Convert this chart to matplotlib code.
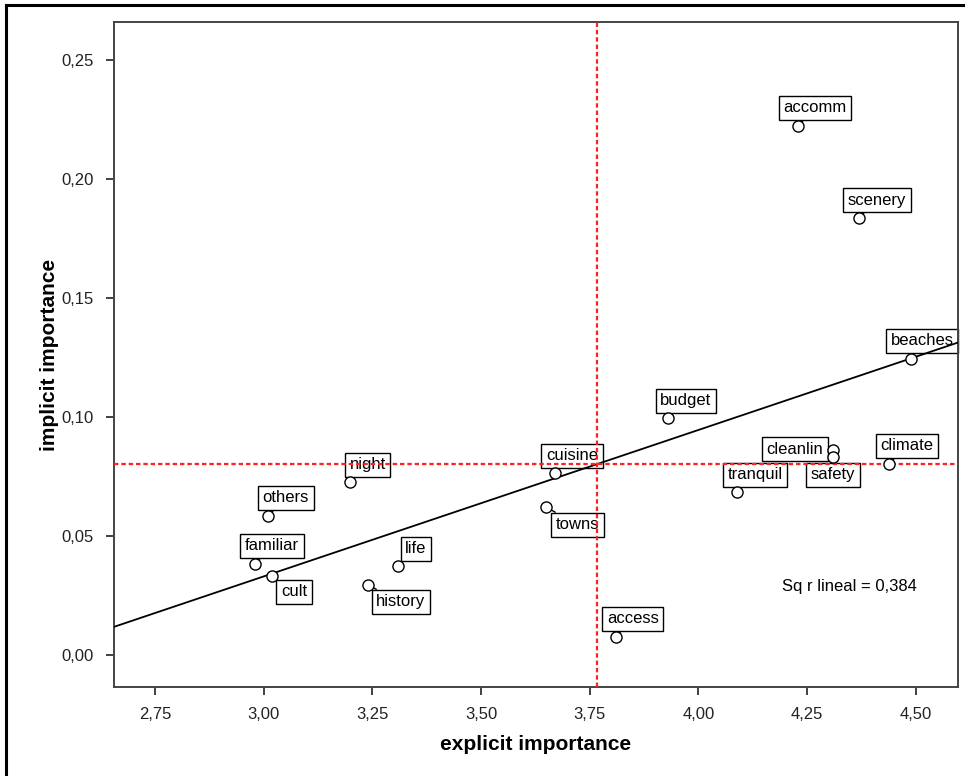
import numpy as np
import matplotlib
matplotlib.use('Agg')
import matplotlib.pyplot as plt
from matplotlib.ticker import FuncFormatter
from matplotlib.lines import Line2D

plt.rcParams['font.family'] = ['Liberation Sans', 'DejaVu Sans']

# attribute names and their explicit / implicit importance
names = ['accomm', 'scenery', 'beaches', 'budget', 'cleanlin', 'safety', 'climate',
         'tranquil', 'cuisine', 'towns', 'access', 'night', 'others', 'familiar',
         'cult', 'life', 'history']
explicit = [4.229, 4.369, 4.489, 3.930, 4.309, 4.309, 4.438,
            4.089, 3.670, 3.649, 3.810, 3.198, 3.010, 2.980,
            3.019, 3.309, 3.240]
implicit = [0.2223, 0.1836, 0.1244, 0.0996, 0.0861, 0.0832, 0.0803,
            0.0685, 0.0765, 0.0622, 0.0076, 0.0727, 0.0584, 0.0382,
            0.0332, 0.0374, 0.0294]
r2_text = 'Sq r lineal = 0,384'

x = np.array(explicit)
y = np.array(implicit)

# label box offsets in pixels (dx, dy) from each point
offsets = {'accomm': (17, 18), 'scenery': (18, 18), 'beaches': (11, 18), 'budget': (18, 17),
           'cleanlin': (-38, 1), 'safety': (0, -18), 'climate': (18, 18), 'tranquil': (18, 17),
           'cuisine': (17, 17), 'towns': (32, -18), 'access': (17, 18), 'night': (18, 17),
           'others': (18, 18), 'familiar': (17, 18), 'cult': (22, -16), 'life': (18, 17),
           'history': (33, -17)}

fig = plt.figure(figsize=(9.65, 7.76), dpi=100)
ax = fig.add_axes([114 / 965, 1 - 687 / 776, (958 - 114) / 965, (687 - 22) / 776])

xmin, xmax = 2.656, 4.597
ax.set_xlim(xmin, xmax)
ax.set_ylim(-0.0135, 0.266)

# labels in white boxes with a short leader line
for n, xi, yi in zip(names, x, y):
    dx, dy = offsets[n]
    ax.annotate(n, (xi, yi), xytext=(dx, dy), textcoords='offset pixels',
                ha='center', va='center', fontsize=12, zorder=2,
                bbox=dict(boxstyle='square,pad=0.28', fc='white', ec='black', lw=1),
                arrowprops=dict(arrowstyle='-', lw=1, color='black', shrinkA=0, shrinkB=3))

# linear fit line
k, b = np.polyfit(x, y, 1)
xx = np.array([xmin, xmax])
ax.plot(xx, k * xx + b, color='black', lw=1.3, zorder=3)

# mean reference lines
ax.axvline(x.mean(), color='#ff2020', lw=1.6, ls=(0, (2, 1.3)), zorder=3)
ax.axhline(y.mean(), color='#ff2020', lw=1.6, ls=(0, (2, 1.3)), zorder=3)

ax.plot(x, y, 'o', ms=8, mfc='white', mec='black', mew=1, zorder=4)

ax.text(4.192, 0.0286, r2_text, fontsize=12, va='center', ha='left')

fmt = FuncFormatter(lambda v, p: ('%.2f' % v).replace('.', ','))
ax.set_xticks([2.75, 3.00, 3.25, 3.50, 3.75, 4.00, 4.25, 4.50])
ax.set_yticks([0.00, 0.05, 0.10, 0.15, 0.20, 0.25])
ax.xaxis.set_major_formatter(fmt)
ax.yaxis.set_major_formatter(fmt)
ax.tick_params(direction='out', length=6, width=1.3, labelsize=12, pad=8.5,
               color='#333333', labelcolor='#222222')
for s in ax.spines.values():
    s.set_linewidth(1.4)
    s.set_color('#444444')

ax.set_xlabel('explicit importance', fontsize=15, fontweight='bold', labelpad=9)
ax.set_ylabel('implicit importance', fontsize=15, fontweight='bold', labelpad=2)

# outer frame of the picture, only left and top edges
fig.add_artist(Line2D([6 / 965, 6 / 965], [0, 1 - 5 / 776], transform=fig.transFigure,
                      color='black', lw=2.2))
fig.add_artist(Line2D([6 / 965, 1], [1 - 5 / 776, 1 - 5 / 776], transform=fig.transFigure,
                      color='black', lw=2.2))

fig.savefig('out.png', dpi=100)
